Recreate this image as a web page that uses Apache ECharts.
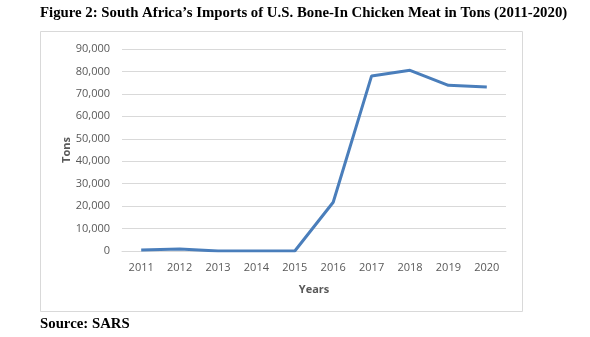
<!DOCTYPE html>
<html><head><meta charset="utf-8">
<script src="https://cdn.jsdelivr.net/npm/echarts@6/dist/echarts.min.js"></script>
<style>html,body{margin:0;padding:0;background:#fff}#c{width:590px;height:337px}</style>
</head><body><div id="c"></div>
<script>
const years = ['2011','2012','2013','2014','2015','2016','2017','2018','2019','2020'];
const tons = [500, 900, 0, 0, 0, 21700, 78000, 80500, 73800, 73100];
const yTicks = {min: 0, max: 90000, interval: 10000};

const chart = echarts.init(document.getElementById('c'), null, {renderer: 'canvas'});
chart.setOption({
  animation: false,
  backgroundColor: '#fff',
  title: [{
    text: 'Figure 2: South Africa\u2019s Imports of U.S. Bone-In Chicken Meat in Tons (2011-2020)',
    left: 35, top: 1,
    textStyle: {fontFamily: 'Liberation Serif', fontWeight: 'bold', fontSize: 14.8, color: '#000'}
  }, {
    text: 'Source: SARS',
    left: 35, top: 312,
    textStyle: {fontFamily: 'Liberation Serif', fontWeight: 'bold', fontSize: 14.8, color: '#000'}
  }],
  graphic: [{
    type: 'rect', shape: {x: 40.5, y: 31.5, width: 482, height: 280},
    style: {fill: 'none', stroke: '#d9d9d9', lineWidth: 1}, silent: true
  }],
  grid: {left: 122, right: 84, top: 49, bottom: 86, containLabel: false},
  xAxis: {
    type: 'category', data: years, boundaryGap: true,
    name: 'Years', nameLocation: 'middle', nameGap: 33,
    nameTextStyle: {fontFamily: 'Open Sans', fontWeight: 'bold', fontSize: 11, color: '#595959'},
    axisLine: {show: true, lineStyle: {color: '#d9d9d9'}},
    axisTick: {show: false},
    axisLabel: {fontFamily: 'Open Sans', fontSize: 11, color: '#595959', margin: 11}
  },
  yAxis: {
    type: 'value', min: yTicks.min, max: yTicks.max, interval: yTicks.interval,
    name: 'Tons', nameLocation: 'middle', nameGap: 50, nameRotate: 90, nameMoveOverlap: false,
    nameTextStyle: {fontFamily: 'Open Sans', fontWeight: 'bold', fontSize: 11, color: '#595959'},
    axisLine: {show: false}, axisTick: {show: false},
    axisLabel: {fontFamily: 'Open Sans', fontSize: 11, color: '#595959', margin: 12,
      formatter: v => v.toLocaleString('en-US')},
    splitLine: {lineStyle: {color: '#d9d9d9', width: 1}}
  },
  series: [{
    type: 'line', data: tons, symbol: 'none',
    lineStyle: {color: '#4a7ebb', width: 3}, itemStyle: {color: '#4a7ebb'}
  }]
});
</script></body></html>
